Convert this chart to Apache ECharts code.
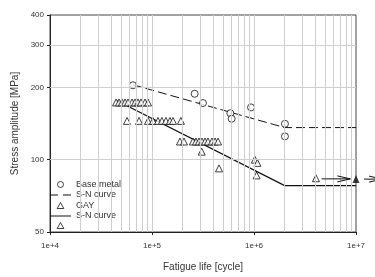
<!DOCTYPE html>
<html>
<head>
<meta charset="utf-8">
<script src="https://cdn.jsdelivr.net/npm/echarts@6/dist/echarts.min.js"></script>
<style>html,body{margin:0;padding:0;background:#fff}#c{width:375px;height:277px}</style>
</head>
<body>
<div id="c"></div>
<script>
// Base metal data
var baseN = [65000, 262000, 316000, 586000, 604000, 935000, 2010000, 2010000];
var baseS = [204, 188, 172, 156, 148, 165, 141, 125];
// S-N curve (base metal)
var snBaseN = [65000, 2000000, 10000000];
var snBaseS = [205, 136, 136];
// GAY data
var gayN = [44400, 47500, 50800, 54400, 58200, 63700, 68100, 72900, 78000, 85400, 91400,
            56900, 74600, 91400, 102000, 114500, 125000, 137000, 150000, 160600, 192000,
            188000, 206000, 252000, 270000, 289000, 309000, 331000, 354000, 387000, 415000, 444000,
            307000, 454000, 1020000, 1080000, 1060000];
var gayS = [173, 173, 173, 173, 173, 173, 173, 173, 173, 173, 173,
            145, 145, 145, 145, 145, 145, 145, 145, 145, 145,
            119, 119, 119, 119, 119, 119, 119, 119, 119, 119, 119,
            108, 92, 100, 97, 86];
// S-N curve (GAY)
var snGayN = [45400, 2000000, 10000000];
var snGayS = [176, 78, 78];
// Run-out points
var runN = [4050000];
var runS = [83.7];
var runFilledN = [10000000];
var runFilledS = [83];
// Run-out arrows (start, end in cycles) at run-out stress
var arrowFromN = [4600000, 12000000];
var arrowToN = [8800000, 18000000];
var arrowS = [83.2, 83];
// Axis ticks
var xTicks = [10000, 100000, 1000000, 10000000];
var yTicks = [50, 100, 200, 300, 400];
var xGrid = [20000,30000,40000,50000,60000,70000,80000,90000,100000,
             200000,300000,400000,500000,600000,700000,800000,900000,1000000,
             2000000,3000000,4000000,5000000,6000000,7000000,8000000,9000000];
var yGrid = [100, 200, 300];

function zip(a, b) { return a.map(function (v, i) { return [v, b[i]]; }); }

var chart = echarts.init(document.getElementById('c'));
var black = '#111';
var hollow = {color: '#fff', borderColor: black, borderWidth: 1};

var gridLines = xGrid.map(function (v) { return {xAxis: v}; })
  .concat(yGrid.map(function (v) { return {yAxis: v}; }));

var triPath = 'path://M5,0L10,9L0,9Z';

chart.setOption({
  animation: false,
  grid: {left: 50, right: 19, top: 15, bottom: 39, show: true, borderColor: '#444', borderWidth: 1, backgroundColor: 'transparent'},
  xAxis: {
    type: 'log', logBase: 10, min: 10000, max: 10000000,
    name: 'Fatigue life [cycle]', nameLocation: 'middle', nameGap: 30,
    nameTextStyle: {fontFamily: 'Liberation Sans', fontSize: 10, color: '#333'},
    axisLine: {lineStyle: {color: '#222', width: 1}},
    axisTick: {show: true, length: 3, lineStyle: {color: '#222'}},
    axisLabel: {fontFamily: 'Liberation Sans', fontSize: 8, color: '#333', margin: 10,
      formatter: function (v) { return '1e+' + Math.round(Math.log10(v)); }},
    splitLine: {show: false}
  },
  yAxis: {
    type: 'log', logBase: 10, min: 50, max: 400,
    name: 'Stress amplitude [MPa]', nameLocation: 'middle', nameGap: 28,
    nameTextStyle: {fontFamily: 'Liberation Sans', fontSize: 10, color: '#333'},
    axisLine: {show: true, lineStyle: {color: '#222', width: 1}},
    axisTick: {show: true, length: 3, lineStyle: {color: '#222'}, customValues: yTicks},
    axisLabel: {fontFamily: 'Liberation Sans', fontSize: 8, color: '#333', margin: 6, customValues: yTicks},
    splitLine: {show: false}
  },
  legend: {
    orient: 'vertical', left: 50, top: 180, itemWidth: 21, itemHeight: 6, itemGap: 1.5,
    padding: 0,
    textStyle: {fontFamily: 'Liberation Sans', fontSize: 9, color: '#333', lineHeight: 9},
    formatter: function (n) { return n === 'Run-out' ? '' : n; },
    data: [
      {name: 'Base metal', icon: 'circle', itemStyle: hollow},
      {name: 'S-N curve', icon: 'path://M0,0h8v1h-8z M13,0h8v1h-8z', itemStyle: {color: black, borderWidth: 0}},
      {name: 'GAY', icon: triPath, itemStyle: hollow},
      {name: 'S-N curve ', icon: 'path://M0,0h21v1h-21z', itemStyle: {color: black, borderWidth: 0}},
      {name: 'Run-out', icon: triPath, itemStyle: hollow}
    ]
  },
  series: [
    {type: 'line', name: 'grid', data: [], z: 1, silent: true,
     markLine: {silent: true, symbol: 'none', label: {show: false}, animation: false,
       lineStyle: {color: '#cfcfcf', width: 1, type: 'solid'}, data: gridLines}},
    {type: 'scatter', name: 'Base metal', data: zip(baseN, baseS), symbol: 'circle', symbolSize: 7, itemStyle: hollow, z: 4},
    {type: 'line', name: 'S-N curve', data: zip(snBaseN, snBaseS), symbol: 'none', z: 3,
     lineStyle: {color: black, width: 1, type: [9, 4]}, itemStyle: {color: black}},
    {type: 'scatter', name: 'GAY', data: zip(gayN, gayS), symbol: 'triangle', symbolSize: 7, itemStyle: hollow, z: 4},
    {type: 'line', name: 'S-N curve ', data: zip(snGayN, snGayS), symbol: 'none', z: 3,
     lineStyle: {color: black, width: 1.2}, itemStyle: {color: black}},
    {type: 'scatter', name: 'Run-out', data: zip(runN, runS), symbol: 'triangle', symbolSize: 7, itemStyle: hollow, z: 4, clip: false},
    {type: 'scatter', name: 'Run-out filled', data: zip(runFilledN, runFilledS), symbol: 'triangle', symbolSize: [7, 8],
     itemStyle: {color: black}, z: 5, clip: false}
  ]
});

// Run-out arrows: positions computed through the chart's own scales
var arrows = [];
arrowFromN.forEach(function (n0, i) {
  var p0 = chart.convertToPixel({gridIndex: 0}, [n0, arrowS[i]]);
  var p1 = chart.convertToPixel({gridIndex: 0}, [arrowToN[i], arrowS[i]]);
  var hx = p1[0] - 13;
  var st = {stroke: black, lineWidth: 1, fill: null};
  arrows.push({type: 'polyline', shape: {points: [p0, p1]}, style: st, z: 10});
  arrows.push({type: 'polyline', shape: {points: [[hx, p1[1] - 3], p1, [hx, p1[1] + 3]]}, style: st, z: 10});
});
chart.setOption({graphic: arrows});
</script>
</body>
</html>
